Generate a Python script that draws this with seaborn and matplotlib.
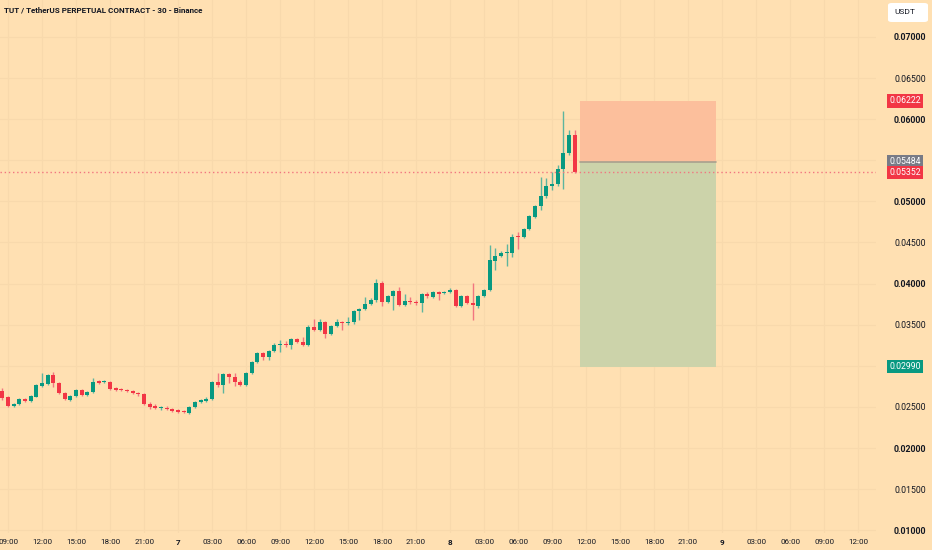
import pandas as pd
import numpy as np
import seaborn as sns
import matplotlib
matplotlib.use('Agg')
import matplotlib.pyplot as plt
import matplotlib.dates as mdates
import matplotlib.transforms as mtransforms
from matplotlib.patches import FancyBboxPatch

# TUT/USDT perpetual, 30 minute candles
opens = [0.02694, 0.02621, 0.02511, 0.02536, 0.02596, 0.02572, 0.02621, 0.02754, 0.02779, 0.02888,
         0.02791, 0.02669, 0.02584, 0.02633, 0.02706, 0.02645, 0.02681, 0.02815, 0.02803, 0.02803,
         0.02730, 0.02718, 0.02706, 0.02694, 0.02669, 0.02657, 0.02536, 0.02511, 0.02487, 0.02487,
         0.02475, 0.02463, 0.02450, 0.02426, 0.02499, 0.02560, 0.02572, 0.02596, 0.02803, 0.02767,
         0.02900, 0.02864, 0.02803, 0.02767, 0.02913, 0.03046, 0.03156, 0.03107, 0.03180, 0.03253,
         0.03265, 0.03253, 0.03326, 0.03290, 0.03253, 0.03472, 0.03436, 0.03533, 0.03387, 0.03484,
         0.03533, 0.03521, 0.03533, 0.03667, 0.03691, 0.03752, 0.03801, 0.04007, 0.03776, 0.03849,
         0.03910, 0.03740, 0.03789, 0.03776, 0.03764, 0.03874, 0.03837, 0.03898, 0.03886, 0.03898,
         0.03922, 0.03728, 0.03849, 0.03764, 0.03728, 0.03849, 0.03922, 0.04275, 0.04336, 0.04372,
         0.04372, 0.04579, 0.04567, 0.04664, 0.04810, 0.04944, 0.05066, 0.05187, 0.05212, 0.05394,
         0.05589, 0.05808]
closes = [0.02608, 0.02511, 0.02536, 0.02596, 0.02572, 0.02633, 0.02767, 0.02791, 0.02888, 0.02791,
          0.02669, 0.02596, 0.02633, 0.02706, 0.02645, 0.02681, 0.02803, 0.02791, 0.02815, 0.02718,
          0.02706, 0.02706, 0.02694, 0.02669, 0.02657, 0.02536, 0.02499, 0.02487, 0.02499, 0.02475,
          0.02450, 0.02438, 0.02438, 0.02499, 0.02560, 0.02584, 0.02596, 0.02803, 0.02767, 0.02900,
          0.02864, 0.02803, 0.02767, 0.02913, 0.03046, 0.03156, 0.03107, 0.03180, 0.03253, 0.03265,
          0.03253, 0.03326, 0.03290, 0.03253, 0.03472, 0.03436, 0.03533, 0.03387, 0.03484, 0.03533,
          0.03521, 0.03533, 0.03667, 0.03691, 0.03752, 0.03801, 0.04007, 0.03776, 0.03849, 0.03910,
          0.03740, 0.03789, 0.03776, 0.03770, 0.03874, 0.03849, 0.03898, 0.03874, 0.03898, 0.03922,
          0.03728, 0.03849, 0.03764, 0.03740, 0.03849, 0.03922, 0.04287, 0.04336, 0.04372, 0.04385,
          0.04567, 0.04567, 0.04664, 0.04822, 0.04944, 0.05066, 0.05187, 0.05212, 0.05394, 0.05589,
          0.05808, 0.05352]
highs = [0.02730, 0.02633, 0.02548, 0.02608, 0.02608, 0.02645, 0.02779, 0.02913, 0.02900, 0.02925,
         0.02803, 0.02681, 0.02645, 0.02718, 0.02718, 0.02694, 0.02852, 0.02827, 0.02827, 0.02815,
         0.02742, 0.02730, 0.02718, 0.02706, 0.02681, 0.02669, 0.02560, 0.02536, 0.02511, 0.02511,
         0.02487, 0.02475, 0.02463, 0.02511, 0.02572, 0.02596, 0.02621, 0.02815, 0.02913, 0.02913,
         0.02913, 0.02913, 0.02827, 0.02925, 0.03058, 0.03168, 0.03168, 0.03192, 0.03277, 0.03314,
         0.03302, 0.03338, 0.03338, 0.03351, 0.03497, 0.03569, 0.03569, 0.03545, 0.03497, 0.03569,
         0.03545, 0.03594, 0.03679, 0.03703, 0.03837, 0.03825, 0.04056, 0.04032, 0.03862, 0.03922,
         0.03959, 0.03874, 0.03837, 0.03801, 0.03886, 0.03898, 0.03910, 0.03910, 0.03910, 0.03947,
         0.03934, 0.03862, 0.03862, 0.04007, 0.03862, 0.03934, 0.04470, 0.04433, 0.04397, 0.04482,
         0.04604, 0.04628, 0.04676, 0.04835, 0.04956, 0.05297, 0.05285, 0.05358, 0.05443, 0.06100,
         0.05869, 0.05869]
lows = [0.02584, 0.02499, 0.02499, 0.02523, 0.02560, 0.02560, 0.02621, 0.02742, 0.02767, 0.02742,
        0.02657, 0.02584, 0.02572, 0.02621, 0.02633, 0.02633, 0.02669, 0.02779, 0.02791, 0.02706,
        0.02694, 0.02694, 0.02681, 0.02657, 0.02633, 0.02523, 0.02475, 0.02475, 0.02463, 0.02463,
        0.02438, 0.02426, 0.02426, 0.02414, 0.02487, 0.02548, 0.02560, 0.02584, 0.02742, 0.02669,
        0.02791, 0.02754, 0.02754, 0.02754, 0.02900, 0.03034, 0.03071, 0.03071, 0.03168, 0.03168,
        0.03229, 0.03204, 0.03277, 0.03241, 0.03241, 0.03424, 0.03424, 0.03338, 0.03375, 0.03472,
        0.03436, 0.03497, 0.03509, 0.03557, 0.03679, 0.03740, 0.03776, 0.03728, 0.03764, 0.03679,
        0.03728, 0.03728, 0.03752, 0.03740, 0.03655, 0.03825, 0.03825, 0.03801, 0.03874, 0.03886,
        0.03716, 0.03716, 0.03752, 0.03557, 0.03703, 0.03837, 0.03910, 0.04166, 0.04324, 0.04214,
        0.04324, 0.04421, 0.04555, 0.04652, 0.04798, 0.04896, 0.05042, 0.05139, 0.05187, 0.05151,
        0.05565, 0.05345]

start_time = '2025-03-06 08:30'
last_price = 0.05352
stop_price = 0.06222
entry_price = 0.05484
target_price = 0.02990
box_start = '2025-03-08 11:30'
box_end = '2025-03-08 23:30'

price_ticks = [0.010, 0.015, 0.020, 0.025, 0.030, 0.035, 0.040, 0.045, 0.050, 0.055, 0.060, 0.065, 0.070]
bold_ticks = [0.010, 0.020, 0.040, 0.050, 0.060, 0.070]
hidden_ticks = [0.030, 0.055]

df = pd.DataFrame({'open': opens, 'high': highs, 'low': lows, 'close': closes})
df['time'] = pd.date_range(start_time, periods=len(df), freq='30min')
df['x'] = mdates.date2num(df['time'])
df['up'] = df['close'] >= df['open']

sns.set_theme(style='white')
plt.rcParams['font.family'] = ['Roboto', 'DejaVu Sans']

BG = '#FFE0B2'
GREEN = '#089981'
RED = '#F23645'
GRID = '#F8D9AC'
TEXT = '#131722'

fig = plt.figure(figsize=(9.32, 5.5), dpi=100, facecolor=BG)
ax = fig.add_axes([0, 17 / 550, 876 / 932, 533 / 550])
ax.set_facecolor(BG)

x0 = mdates.date2num(pd.Timestamp('2025-03-06 08:17'))
x1 = mdates.date2num(pd.Timestamp('2025-03-09 13:35'))
ax.set_xlim(x0, x1)
ax.set_ylim(0.00966, 0.07450)

# grid
tick_times = pd.date_range('2025-03-06 09:00', '2025-03-09 12:00', freq='3h')
for t in tick_times:
    ax.axvline(mdates.date2num(t), color=GRID, lw=0.8, zorder=0)
for p in price_ticks:
    ax.axhline(p, color=GRID, lw=0.8, zorder=0)

# long/short position box
bx0 = mdates.date2num(pd.Timestamp(box_start))
bx1 = mdates.date2num(pd.Timestamp(box_end))
ax.fill_between([bx0, bx1], entry_price, stop_price, color='#FCBF9C', lw=0, zorder=1)
ax.fill_between([bx0, bx1], target_price, entry_price, color='#CCD3AA', lw=0, zorder=1)
ax.plot([bx0, bx1], [entry_price, entry_price], color='#A8A08E', lw=1.2, zorder=2)

# candles
w = 0.7 / 48
colors = np.where(df['up'], GREEN, RED)
wick_colors = np.where(df['up'], '#5DB59E', '#F27580')
ax.vlines(df['x'], df['low'], df['high'], colors=wick_colors, lw=1.0, zorder=3)
body_bottom = df[['open', 'close']].min(axis=1)
body_height = (df['close'] - df['open']).abs().clip(lower=0.00008)
ax.bar(df['x'], body_height, bottom=body_bottom, width=w, color=colors, lw=0, zorder=4)

# last price line
ax.axhline(last_price, color='#F27580', lw=1.0, ls=(0, (1, 2)), zorder=5)

for s in ax.spines.values():
    s.set_visible(False)

# time axis
ax.set_xticks(mdates.date2num(tick_times))
labels = []
for t in tick_times:
    labels.append(str(t.day) if t.hour == 0 else t.strftime('%H:%M'))
ax.set_xticklabels(labels)
ax.tick_params(axis='x', length=0, pad=4, labelsize=5.8, colors=TEXT)
for lab, t in zip(ax.get_xticklabels(), tick_times):
    if t.hour == 0:
        lab.set_fontweight('bold')

# price axis
ax.yaxis.tick_right()
ax.set_yticks(price_ticks)
ax.set_yticklabels(['' if p in hidden_ticks else f'{p:.5f}' for p in price_ticks])
ax.tick_params(axis='y', length=0, pad=13, labelsize=6.3, colors=TEXT)
for lab, p in zip(ax.get_yticklabels(), price_ticks):
    if p in bold_ticks:
        lab.set_fontweight('bold')

trans = mtransforms.blended_transform_factory(ax.transAxes, ax.transData)
for price, col in [(stop_price, RED), (entry_price, '#787B86'), (last_price, RED), (target_price, GREEN)]:
    ax.text(1.0155, price, f'{price:.5f}', transform=trans, ha='left', va='center',
            fontsize=6.3, color='white', clip_on=False, zorder=10,
            bbox=dict(boxstyle='square,pad=0.25', fc=col, ec='none'))

# currency box
fig.patches.append(FancyBboxPatch((888 / 932, 528 / 550), 40 / 932, 19 / 550,
                                  boxstyle='round,pad=0,rounding_size=0.004',
                                  transform=fig.transFigure, fc='white', ec='none'))
fig.text(894 / 932, 538 / 550, 'USDT', fontsize=6, color=TEXT, va='center', ha='left')

# title
fig.text(4 / 932, 540 / 550, 'TUT / TetherUS PERPETUAL CONTRACT - 30 - Binance',
         fontsize=5.8, fontweight='bold', color=TEXT, va='center', ha='left')

fig.savefig('out.png', dpi=100, facecolor=BG)
